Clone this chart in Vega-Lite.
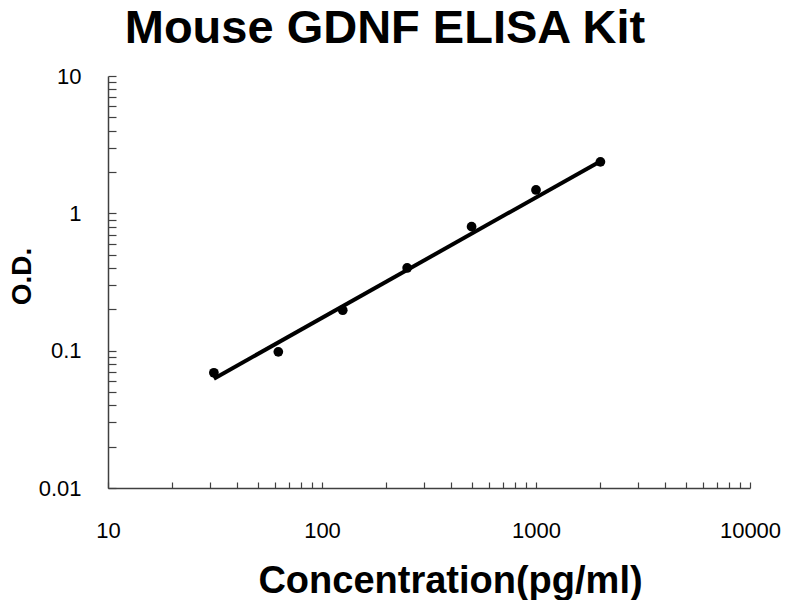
{
  "$schema": "https://vega.github.io/schema/vega-lite/v6.json",
  "width": 642,
  "height": 412,
  "autosize": {"type": "none"},
  "padding": {"left": 108, "top": 76, "right": 50, "bottom": 112},
  "background": "white",
  "title": {
    "text": "Mouse GDNF ELISA Kit",
    "font": "Liberation Sans",
    "fontSize": 47,
    "fontWeight": "bold",
    "color": "black",
    "anchor": "middle",
    "dx": -44,
    "baseline": "alphabetic",
    "offset": -25
  },
  "config": {"view": {"stroke": null}},
  "datasets": {
    "points": [
      {"conc": 31.25, "od": 0.069},
      {"conc": 62.5, "od": 0.098},
      {"conc": 125, "od": 0.197},
      {"conc": 250, "od": 0.40},
      {"conc": 500, "od": 0.80},
      {"conc": 1000, "od": 1.48},
      {"conc": 2000, "od": 2.37}
    ],
    "fit": [
      {"conc": 31.25, "od": 0.0625},
      {"conc": 2050, "od": 2.45}
    ]
  },
  "encoding": {
    "x": {
      "field": "conc",
      "type": "quantitative",
      "scale": {"type": "log", "domain": [10, 10000], "nice": false},
      "axis": {
        "title": "Concentration(pg/ml)",
        "titleFont": "Liberation Sans",
        "titleFontSize": 38,
        "titleFontWeight": "bold",
        "titleColor": "black",
        "titleX": 342,
        "titleY": 104,
        "titleBaseline": "alphabetic",
        "titleAnchor": "middle",
        "values": [10, 20, 30, 40, 50, 60, 70, 80, 90, 100, 200, 300, 400, 500, 600, 700, 800, 900, 1000, 2000, 3000, 4000, 5000, 6000, 7000, 8000, 9000, 10000],
        "labelExpr": "indexof(['10','100','1000','10000'], datum.label) >= 0 ? datum.label : ''",
        "format": "d",
        "labelOverlap": false,
        "labelFlush": false,
        "labelFont": "Liberation Sans",
        "labelFontSize": 22,
        "labelColor": "black",
        "labelPadding": 38,
        "tickSize": -6,
        "tickColor": "#404040",
        "tickWidth": 1.2,
        "domainColor": "#404040",
        "domainWidth": 1.5,
        "grid": false
      }
    },
    "y": {
      "field": "od",
      "type": "quantitative",
      "scale": {"type": "log", "domain": [0.01, 10], "nice": false},
      "axis": {
        "title": "O.D.",
        "titleFont": "Liberation Sans",
        "titleFontSize": 28,
        "titleFontWeight": "bold",
        "titleColor": "black",
        "titleX": -86,
        "titleY": 200,
        "titleBaseline": "middle",
        "titleAngle": -90,
        "titleAnchor": "middle",
        "values": [0.01, 0.02, 0.03, 0.04, 0.05, 0.06, 0.07, 0.08, 0.09, 0.1, 0.2, 0.3, 0.4, 0.5, 0.6, 0.7, 0.8, 0.9, 1, 2, 3, 4, 5, 6, 7, 8, 9, 10],
        "labelExpr": "indexof(['0.01','0.1','1','10'], datum.label) >= 0 ? datum.label : ''",
        "format": "~g",
        "labelOverlap": false,
        "labelFlush": false,
        "labelFont": "Liberation Sans",
        "labelFontSize": 22,
        "labelColor": "black",
        "labelPadding": 35,
        "tickSize": -8,
        "tickColor": "#404040",
        "tickWidth": 1.2,
        "domainColor": "#404040",
        "domainWidth": 1.5,
        "grid": false
      }
    }
  },
  "layer": [
    {
      "data": {"name": "fit"},
      "mark": {"type": "line", "color": "black", "strokeWidth": 4}
    },
    {
      "data": {"name": "points"},
      "mark": {"type": "circle", "color": "black", "opacity": 1, "size": 95}
    }
  ]
}
